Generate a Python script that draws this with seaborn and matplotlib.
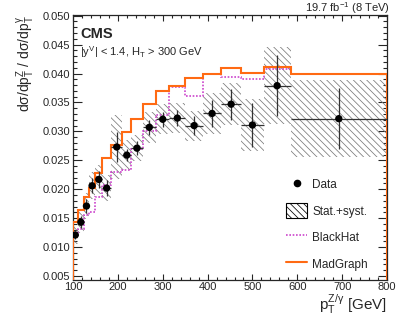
import matplotlib
matplotlib.use("Agg")
import matplotlib.pyplot as plt
import matplotlib.patches as mpatches
from matplotlib.lines import Line2D
from matplotlib.ticker import MultipleLocator
import numpy as np
import seaborn as sns

# bin edges in pT (GeV)
bin_edges = [100, 110, 125, 135, 150, 165, 185, 210, 230, 255, 285,
             315, 350, 390, 430, 475, 525, 585, 800]

# measured Z/gamma ratio
data_ratio = [0.0121, 0.0143, 0.0171, 0.0206, 0.0217, 0.0202, 0.0273, 0.0259,
              0.0271, 0.0307, 0.0321, 0.0323, 0.0310, 0.0331, 0.0347, 0.0311,
              0.0379, 0.0322]
stat_err = [0.0007, 0.0010, 0.0012, 0.0013, 0.0014, 0.0014, 0.0026, 0.0011,
            0.0012, 0.0013, 0.0013, 0.0014, 0.0017, 0.0023, 0.0027, 0.0038,
            0.0053, 0.0053]
total_err = [0.0015, 0.0019, 0.0022, 0.0023, 0.0025, 0.0023, 0.0055, 0.0026,
             0.0023, 0.0027, 0.0026, 0.0026, 0.0026, 0.0035, 0.0036, 0.0045,
             0.0066, 0.0066]

# theory predictions
blackhat = [0.0121, 0.0132, 0.0156, 0.0161, 0.0187, 0.0207, 0.0230, 0.0233,
            0.0269, 0.0300, 0.0329, 0.0377, 0.0362, 0.0400, 0.0394, 0.0391,
            0.0408, 0.0399]
madgraph = [0.0144, 0.0164, 0.0186, 0.0202, 0.0228, 0.0254, 0.0277, 0.0299,
            0.0321, 0.0347, 0.0370, 0.0379, 0.0392, 0.0400, 0.0409, 0.0401,
            0.0412, 0.0400]

edges = np.array(bin_edges, dtype=float)
centers = 0.5 * (edges[:-1] + edges[1:])
half_width = 0.5 * np.diff(edges)
ratio = np.array(data_ratio)
tot = np.array(total_err)

sns.set_style("ticks")
plt.rcParams["font.family"] = ["Liberation Sans", "DejaVu Sans"]
plt.rcParams["mathtext.fontset"] = "custom"
plt.rcParams["mathtext.rm"] = "Liberation Sans"
plt.rcParams["mathtext.it"] = "Liberation Sans"
plt.rcParams["hatch.linewidth"] = 0.55

fig = plt.figure(figsize=(4.07, 3.24), dpi=100)
ax = fig.add_axes([0.1794, 0.1373, 0.7715, 0.8179])

# stat+syst hatched boxes
ax.bar(centers, 2 * tot, width=np.diff(edges), bottom=ratio - tot,
       fill=False, hatch="\\" * 5, edgecolor="#7a7a7a", linewidth=0, zorder=1)

ax.stairs(blackhat, edges, color="#cc44cc", linestyle=(0, (1, 1)),
          linewidth=1.2, zorder=2)
ax.stairs(madgraph, edges, color="#ff6a13", linewidth=1.5, zorder=3)

ax.errorbar(centers, ratio, xerr=half_width, yerr=stat_err, fmt="none",
            ecolor="#333333", elinewidth=0.9, capsize=0, zorder=4)
sns.scatterplot(x=centers, y=ratio, color="black", s=28, edgecolor="none",
                ax=ax, zorder=5)

ax.set_xlim(100, 800)
ax.set_ylim(0.0044, 0.0502)
ax.xaxis.set_major_locator(MultipleLocator(100))
ax.xaxis.set_minor_locator(MultipleLocator(20))
ax.yaxis.set_major_locator(MultipleLocator(0.005))
ax.yaxis.set_minor_locator(MultipleLocator(0.001))
ax.yaxis.set_major_formatter(matplotlib.ticker.FormatStrFormatter("%.3f"))
ax.tick_params(axis="both", which="both", direction="in", top=True,
               right=True, labelsize=8, width=0.8, pad=2)
ax.tick_params(axis="y", which="major", length=6.5)
ax.tick_params(axis="y", which="minor", length=3)
ax.tick_params(axis="x", which="major", length=4.5)
ax.tick_params(axis="x", which="minor", length=2.2)
for s in ax.spines.values():
    s.set_linewidth(0.9)

ax.set_xlabel(r"$\mathregular{p_T^{Z/\gamma}}$ [GeV]", fontsize=11,
              loc="right", labelpad=0)
ax.set_ylabel(r"$\mathregular{d\sigma/dp_T^Z}$ / $\mathregular{d\sigma/dp_T^\gamma}$",
              fontsize=10, loc="top", labelpad=4)

ax.text(0.022, 0.925, "CMS", transform=ax.transAxes, fontsize=10.5,
        fontweight="bold", va="center", ha="left")
ax.text(0.022, 0.86, r"|$\mathregular{y^V}$| < 1.4, $\mathregular{H_T}$ > 300 GeV",
        transform=ax.transAxes, fontsize=8, va="center", ha="left")
fig.text(0.957, 0.975, r"19.7 $\mathregular{fb^{-1}}$ (8 TeV)", fontsize=8,
         ha="right", va="center")

handles = [
    Line2D([], [], marker="o", color="black", linestyle="none", markersize=4.5),
    mpatches.Patch(facecolor="white", edgecolor="black", hatch="\\" * 5,
                   linewidth=0.8),
    Line2D([], [], color="#cc44cc", linestyle=(0, (1, 1)), linewidth=1.2),
    Line2D([], [], color="#ff6a13", linewidth=1.5),
]
labels = ["Data", "Stat.+syst.", "BlackHat", "MadGraph"]
ax.legend(handles, labels, loc="lower right", bbox_to_anchor=(0.965, 0.0),
          frameon=False, fontsize=8.5, handlelength=1.8, handleheight=1.6,
          labelspacing=0.95, handletextpad=0.4, borderaxespad=0.3)

fig.savefig("out.png", dpi=100)
